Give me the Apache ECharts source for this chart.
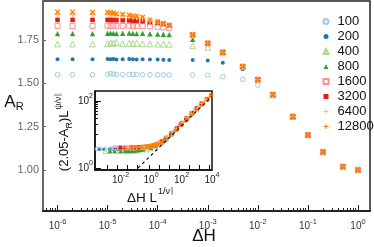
<!DOCTYPE html>
<html><head><meta charset="utf-8">
<script src="https://cdn.jsdelivr.net/npm/echarts@6/dist/echarts.min.js"></script>
<style>html,body{margin:0;padding:0;background:#fff}#c{width:374px;height:247px}</style>
</head><body><div id="c"></div>
<script>
// ---------- data ----------
const sizes = ['100','200','400','800','1600','3200','6400','12800'];
const dH = [1e-6,2e-6,5e-6,1e-5,1.15e-5,1.3e-5,1.5e-5,2e-5,2.7e-5,3.2e-5,3.8e-5,5e-5,7e-5,1e-4,1.3e-4,1.7e-4,
            5e-4,1e-3,2e-3,5e-3,1e-2,2e-2,5e-2,0.1,0.2,0.5,1];
const A100   = [1.550,1.550,1.550,1.552,1.556,1.553,1.551,1.550,1.551,1.552,1.550,1.550,1.550,1.549,1.549,1.548,1.548,1.546,1.538,1.523,1.490,1.434,1.308,1.202,1.104,1.019,1.000];
const A200   = [1.639,1.639,1.639,1.640,1.639,1.640,1.638,1.639,1.640,1.639,1.638,1.639,1.638,1.637,1.636,1.635,1.635,1.631,1.619,1.581,1.523,1.434,1.308,1.202,1.104,1.019,1.000];
const A400   = [1.727,1.727,1.727,1.729,1.733,1.731,1.735,1.728,1.730,1.729,1.731,1.728,1.727,1.726,1.726,1.725,1.716,1.708,1.679,1.596,1.521,1.434,1.308,1.202,1.104,1.019,1.000];
const A800   = [1.787,1.787,1.787,1.789,1.790,1.788,1.787,1.789,1.790,1.788,1.787,1.788,1.786,1.784,1.783,1.781,1.754,1.731,1.679,1.596,1.521,1.434,1.308,1.202,1.104,1.019,1.000];
const A1600  = [1.831,1.831,1.831,1.832,1.831,1.832,1.831,1.831,1.832,1.831,1.831,1.830,1.829,1.826,1.823,1.818,1.779,1.731,1.679,1.596,1.521,1.434,1.308,1.202,1.104,1.019,1.000];
const A3200  = [1.866,1.866,1.866,1.866,1.865,1.866,1.864,1.864,1.863,1.862,1.861,1.859,1.853,1.848,1.842,1.835,1.779,1.731,1.679,1.596,1.521,1.434,1.308,1.202,1.104,1.019,1.000];
const A6400  = [1.897,1.897,1.897,1.897,1.897,1.896,1.894,1.892,1.889,1.885,1.882,1.876,1.862,1.852,1.843,1.834,1.779,1.731,1.679,1.596,1.521,1.434,1.308,1.202,1.104,1.019,1.000];
const A12800 = [1.912,1.912,1.910,1.910,1.909,1.906,1.901,1.898,1.894,1.889,1.887,1.881,1.866,1.856,1.847,1.837,1.779,1.731,1.679,1.596,1.521,1.434,1.308,1.202,1.104,1.019,1.000];

// inset (log10 of scaled quantities)
const i100X = [-3.55,-3.35,-3.0,-2.7,-2.6,-2.5,-2.4,-2.3,-2.2,-2.1,-2.0,-1.85,-1.7,-1.6,-1.5,-1.0,-0.7,-0.4,0.0,0.3,0.6,1.0,1.3,1.6,2.0,2.3];
const i100Y = [0.57,0.57,0.57,0.57,0.58,0.57,0.57,0.57,0.57,0.57,0.57,0.57,0.57,0.57,0.57,0.57,0.58,0.59,0.62,0.67,0.74,0.88,1.0,1.13,1.32,1.46];
const i200X = [-3.4,-3.1,-2.7,-2.4,-2.3,-2.2,-2.1,-2.0,-1.9,-1.8,-1.7,-1.5,-1.4,-1.3,-1.2,-0.7,-0.4,-0.1,0.3,0.6,0.9,1.3,1.6,1.9,2.3,2.6];
const i200Y = [0.56,0.56,0.56,0.56,0.56,0.56,0.56,0.56,0.56,0.56,0.56,0.56,0.56,0.56,0.56,0.57,0.58,0.6,0.66,0.73,0.82,0.99,1.12,1.27,1.45,1.58];
const i400X = [-3.0,-2.7,-2.3,-2.0,-1.9,-1.8,-1.7,-1.6,-1.5,-1.4,-1.3,-1.2,-1.0,-0.9,-0.8,-0.3,0.0,0.3,0.7,1.0,1.3,1.7,2.0,2.3,2.7,3.0];
const i400Y = [0.5,0.5,0.5,0.5,0.51,0.5,0.51,0.5,0.51,0.51,0.51,0.51,0.52,0.52,0.53,0.55,0.58,0.64,0.76,0.88,1.01,1.19,1.31,1.45,1.64,1.77];
const i800X = [-2.7,-2.4,-2.0,-1.7,-1.6,-1.5,-1.4,-1.3,-1.2,-1.1,-1.0,-0.85,-0.7,-0.6,-0.5,0.0,0.3,0.6,1.0,1.3,1.6,2.0,2.3,2.6,3.0,3.3];
const i800Y = [0.51,0.51,0.51,0.51,0.51,0.51,0.52,0.52,0.52,0.52,0.53,0.53,0.54,0.55,0.56,0.6,0.66,0.74,0.89,1.01,1.14,1.33,1.46,1.6,1.78,1.9];
const i1600X = [-2.35,-2.05,-1.65,-1.35,-1.25,-1.15,-1.05,-0.95,-0.85,-0.75,-0.65,-0.5,-0.35,-0.25,-0.15,0.35,0.65,0.95,1.35,1.65,1.95,2.35,2.65,2.95,3.35,3.65];
const i1600Y = [0.6,0.6,0.6,0.6,0.6,0.6,0.6,0.61,0.61,0.61,0.61,0.62,0.63,0.63,0.64,0.7,0.77,0.86,1.03,1.16,1.3,1.48,1.62,1.76,1.92,2.04];
const i3200X = [-2.0,-1.7,-1.3,-1.0,-0.9,-0.8,-0.7,-0.6,-0.5,-0.4,-0.3,-0.15,0.0,0.1,0.2,0.7,1.0,1.3,1.7,2.0,2.3,2.7,3.0,3.3,3.7,3.95];
const i3200Y = [0.61,0.61,0.61,0.61,0.61,0.62,0.62,0.62,0.63,0.63,0.64,0.65,0.66,0.67,0.68,0.8,0.91,1.03,1.2,1.34,1.48,1.65,1.79,1.92,2.07,2.17];
const i6400X = [-1.65,-1.35,-0.95,-0.65,-0.55,-0.45,-0.35,-0.25,-0.15,-0.05,0.05,0.2,0.35,0.45,0.55,1.05,1.35,1.65,2.05,2.35,2.65,3.05,3.35,3.65];
const i6400Y = [0.62,0.62,0.62,0.63,0.63,0.63,0.64,0.64,0.65,0.66,0.67,0.69,0.71,0.73,0.75,0.93,1.05,1.18,1.36,1.5,1.63,1.8,1.93,2.05];
const i12800X = [-1.3,-1.0,-0.6,-0.3,-0.2,-0.1,0.0,0.1,0.2,0.3,0.4,0.55,0.7,0.8,0.9,1.4,1.7,2.0,2.4,2.7,3.0,3.4,3.7,3.95];
const i12800Y = [0.63,0.63,0.63,0.64,0.64,0.65,0.66,0.67,0.68,0.7,0.71,0.74,0.77,0.8,0.83,1.02,1.15,1.3,1.49,1.62,1.76,1.93,2.06,2.16];
const fitX = [-0.86, 4.0];
const fitY = [0.0, 2.14];

// tick labels
const mainXLabels = [-6,-5,-4,-3,-2,-1,0];
const mainYLabels = [1.00,1.25,1.50,1.75];
const insetXLabels = [-2,0,2,4];
const insetYLabels = [0,2];

// ---------- presentation ----------
const FONT = '"Liberation Sans", Arial, Helvetica, sans-serif';
const A = [A100,A200,A400,A800,A1600,A3200,A6400,A12800];
const IX = [i100X,i200X,i400X,i800X,i1600X,i3200X,i6400X,i12800X];
const IY = [i100Y,i200Y,i400Y,i800Y,i1600Y,i3200Y,i6400Y,i12800Y];
const PLUS = 'path://M-1,-5H1V-1H5V1H1V5H-1V1H-5V-1H-1Z';
const STY = [
  {symbol:'circle', size:4.6, color:'rgba(255,255,255,0)', border:'#9ecae1', bw:1},
  {symbol:'circle', size:4, color:'#1f78b4', border:'#1f78b4', bw:0},
  {symbol:'triangle', size:5.8, color:'rgba(255,255,255,0)', border:'#a8d98a', bw:1},
  {symbol:'triangle', size:5.3, color:'#33a02c', border:'#33a02c', bw:0},
  {symbol:'rect', size:5, color:'rgba(255,255,255,0)', border:'#fb8f8e', bw:1},
  {symbol:'rect', size:4.6, color:'#e31a1c', border:'#e31a1c', bw:0},
  {symbol:PLUS, size:6.5, color:'#fdbf6f', border:'#fdbf6f', bw:0, rot:0},
  {symbol:PLUS, size:6.5, color:'#ff7f00', border:'#ff7f00', bw:0, rot:45}
];

const XMIN = -6.29, XMAX = 0.24;
const minorX = [];
for (let n = -7; n <= 0; n++) for (let k = 2; k <= 9; k++) {
  const v = n + Math.log10(k);
  if (v > XMIN && v < XMAX) minorX.push(v);
}
const minorIY = [1];
for (let k = 2; k <= 9; k++) minorIY.push(1 + Math.log10(k));
const insetTickX = [-2.9,-2.24,-1.58,-0.92,-0.13,0.53,1.18,1.84,2.5,3.16,3.82];

function powRich(size, sup, color){
  return {
    b:{fontSize:size, fontFamily:FONT, color:color, lineHeight:16},
    s:{fontSize:sup, fontFamily:FONT, color:color, lineHeight:8, verticalAlign:'top'}
  };
}
const powFmt = v => '{b|10}{s|' + Math.round(v) + '}';

const series = [];
sizes.forEach((name,k) => {
  const s = STY[k];
  series.push({
    type:'scatter', name:name, xAxisIndex:0, yAxisIndex:0,
    data: dH.map((h,i) => [Math.log10(h), A[k][i]]),
    symbol:s.symbol, symbolSize:s.size, symbolRotate:s.rot || 0,
    itemStyle:{color:s.color, borderColor:s.border, borderWidth:s.bw, opacity:1},
    z: 2 + k, animation:false, silent:true
  });
});
sizes.forEach((name,k) => {
  const s = STY[k];
  series.push({
    type:'scatter', name:'inset' + name, xAxisIndex:2, yAxisIndex:1,
    data: IX[k].map((x,i) => [x, IY[k][i]]),
    symbol:s.symbol, symbolSize:s.size*0.8, symbolRotate:s.rot || 0,
    itemStyle:{color:s.color, borderColor:s.border, borderWidth:s.bw, opacity:1},
    z: 12 + k, animation:false, silent:true
  });
});
series.push({
  type:'line', name:'fit', xAxisIndex:2, yAxisIndex:1,
  data: fitX.map((x,i) => [x, fitY[i]]),
  symbol:'none', lineStyle:{color:'#111', width:1.2, type:[3,3]},
  z:30, animation:false, silent:true
});

const chart = echarts.init(document.getElementById('c'), null, {renderer:'canvas'});
chart.setOption({
  backgroundColor:'#fff',
  animation:false,
  grid:[
    {left:43, right:4, top:1, bottom:36, show:true, borderColor:'#222', borderWidth:1.5},
    {left:95, top:91, width:117, height:79, show:true, borderColor:'#111', borderWidth:1.5, backgroundColor:'#fff'}
  ],
  xAxis:[
    {type:'value', gridIndex:0, min:XMIN, max:XMAX, position:'bottom',
     axisLine:{onZero:false, lineStyle:{color:'#222', width:1.8}},
     axisTick:{inside:true, length:6, lineStyle:{color:'#222', width:1}, customValues:mainXLabels},
     axisLabel:{customValues:mainXLabels, formatter:powFmt, rich:powRich(10,7.5,'#333'), margin:7},
     splitLine:{show:false}},
    {type:'value', gridIndex:0, min:XMIN, max:XMAX, position:'bottom',
     axisLine:{show:false, onZero:false},
     axisTick:{inside:true, length:3, lineStyle:{color:'#222', width:1}, customValues:minorX},
     axisLabel:{show:false}, splitLine:{show:false}},
    {type:'value', gridIndex:1, min:-3.68, max:4.0, position:'bottom',
     axisLine:{onZero:false, lineStyle:{color:'#111', width:1.5}},
     axisTick:{inside:true, length:5, lineStyle:{color:'#111', width:1}, customValues:insetTickX},
     axisLabel:{customValues:insetXLabels, formatter:powFmt, rich:powRich(10,7,'#222'), margin:2},
     splitLine:{show:false}}
  ],
  yAxis:[
    {type:'value', gridIndex:0, min:0.763, max:1.975, position:'left',
     axisLine:{onZero:false, lineStyle:{color:'#666', width:2}},
     axisTick:{inside:true, length:3, lineStyle:{color:'#666', width:1}, customValues:mainYLabels},
     axisLabel:{customValues:mainYLabels, formatter:v => v.toFixed(2), fontSize:11, fontFamily:FONT, color:'#666', margin:4},
     splitLine:{show:false}},
    {type:'value', gridIndex:1, min:-0.06, max:2.3, position:'left',
     axisLine:{onZero:false, lineStyle:{color:'#111', width:1.5}},
     axisTick:{inside:true, length:6, lineStyle:{color:'#111', width:1}, customValues:insetYLabels},
     axisLabel:{customValues:insetYLabels, formatter:powFmt, rich:powRich(10,7,'#222'), margin:2},
     splitLine:{show:false}},
    {type:'value', gridIndex:1, min:-0.06, max:2.3, position:'left', offset:0,
     axisLine:{show:false, onZero:false},
     axisTick:{inside:true, length:3, lineStyle:{color:'#111', width:1}, customValues:minorIY},
     axisLabel:{show:false}, splitLine:{show:false}}
  ],
  legend:{
    orient:'vertical', left:317.5, top:10, itemWidth:5, itemHeight:5, itemGap:2,
    selectedMode:false, data:sizes,
    textStyle:{fontSize:13, fontFamily:FONT, color:'#111', lineHeight:13, padding:[0,0,0,4]}
  },
  graphic:[
    {type:'text', x:14, y:102, silent:true,
     style:{text:'{a|A}{r|R}', textAlign:'center', textVerticalAlign:'middle',
            rich:{a:{fontSize:17, fontFamily:FONT, fill:'#111', lineHeight:20},
                  r:{fontSize:11, fontFamily:FONT, fill:'#111', lineHeight:11, verticalAlign:'bottom'}}}},
    {type:'text', x:204, y:236, silent:true,
     style:{text:'ΔH', textAlign:'center', textVerticalAlign:'middle', fontSize:17, fontFamily:FONT, fill:'#111'}},
    {type:'text', x:127, y:198, silent:true,
     style:{text:'{a|ΔH L}{s|1/ν}{p|∥}', textAlign:'left', textVerticalAlign:'middle',
            rich:{a:{fontSize:13.5, fontFamily:FONT, fill:'#111', lineHeight:22},
                  s:{fontSize:9, fontFamily:FONT, fill:'#111', lineHeight:9, verticalAlign:'top', padding:[0,0,0,1]},
                  p:{fontSize:8, fontFamily:'"DejaVu Sans", sans-serif', fill:'#888', lineHeight:14, verticalAlign:'top'}}}},
    {type:'text', x:64, y:132, rotation:Math.PI/2, silent:true,
     style:{text:'{a|(2.05-A}{r|R}{a|)L}{s|ψ/ν}{p|∥}', textAlign:'center', textVerticalAlign:'middle',
            rich:{a:{fontSize:13, fontFamily:FONT, fill:'#111', lineHeight:20},
                  r:{fontSize:9, fontFamily:FONT, fill:'#111', lineHeight:9, verticalAlign:'bottom'},
                  s:{fontSize:8.5, fontFamily:FONT, fill:'#111', lineHeight:8, verticalAlign:'top', padding:[0,0,0,1]},
                  p:{fontSize:8, fontFamily:'"DejaVu Sans", sans-serif', fill:'#999', lineHeight:13, verticalAlign:'top'}}}}
  ],
  series:series
});
</script>
</body></html>
